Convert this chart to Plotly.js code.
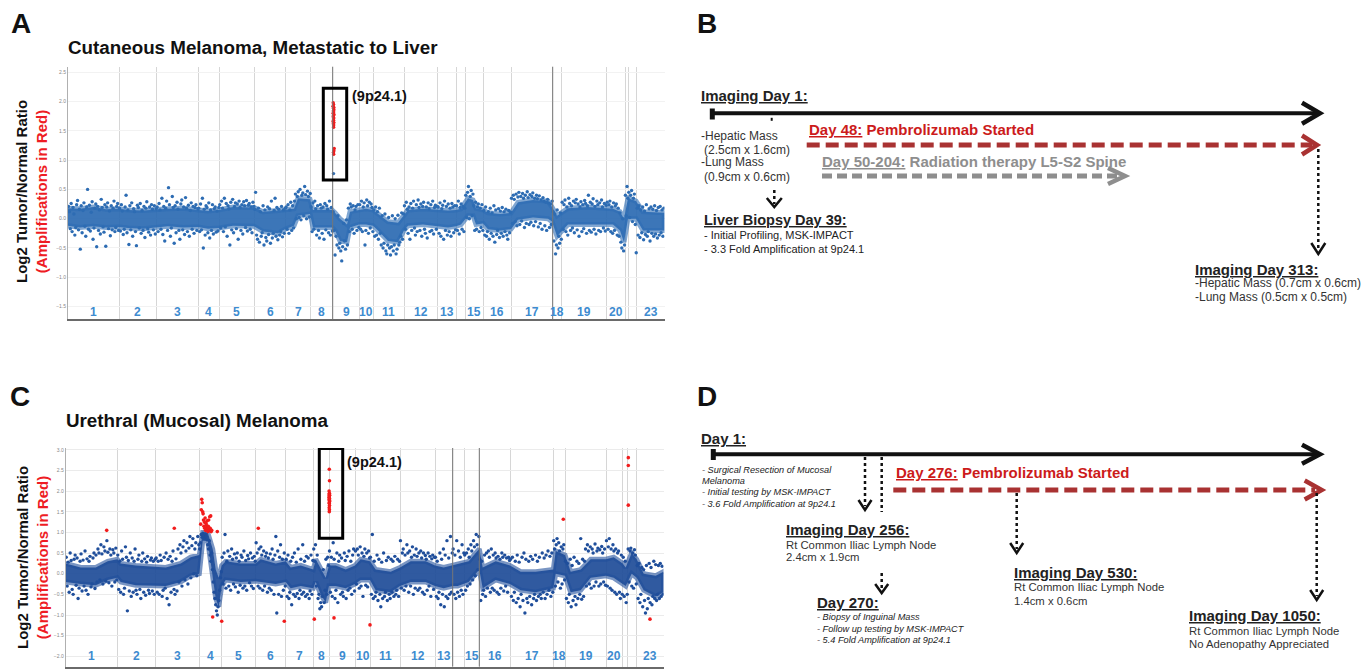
<!DOCTYPE html>
<html>
<head>
<meta charset="utf-8">
<script src="https://cdn.plot.ly/plotly-3.0.1.min.js"></script>
<style>html,body{margin:0;padding:0;background:#fff;}#chart{width:1365px;height:669px;}</style>
</head>
<body>
<div id="chart"></div>
<script>
// ---------------- DATA ----------------
const chromTickText = ['1','2','3','4','5','6','7','8','9','10','11','12','13','','15','16','17','18','19','20','','','23'];
// cumulative probe-index end of each chromosome (panel A / panel C)
const chromEndA = [51,88.7,130.3,151.3,186.3,217.7,242.7,264.7,291.3,305.3,336,369.7,388,397.3,415.3,443,484.7,493.7,538.7,557,560.3,568.7,596.3];
const chromEndC = [51.6,90,133.6,156,190,220,247.6,263.3,289.3,304.3,334.3,369.3,387,398.6,413.6,444.3,487.6,499.3,540.3,557,562,571,597.8];
const yTicksA = [-1.5,-1.0,-0.5,0.0,0.5,1.0,1.5,2.0,2.5];
const yTicksC = [-2.0,-1.5,-1.0,-0.5,0.0,0.5,1.0,1.5,2.0,2.5,3.0];

// dense core of the log2 ratio cloud (lower / upper envelope)
const bandXA  = [0,12,25,38,51, 60,75,88, 100,115,130, 140,151, 165,186, 195,210,217, 226,230,242, 245,264, 267,272,279,282,291, 298,305, 310,320,330,336, 340,355,369, 380,388, 393, 400,405,408,415, 420,432,443, 450,465,480,484, 489, 500,520,538, 545,552,556, 560,568, 575,590,596.3];
const bandLoA = [-0.12,-0.15,-0.13,-0.15,-0.14, -0.16,-0.17,-0.14, -0.13,-0.15,-0.14, -0.17,-0.16, -0.12,-0.13, -0.22,-0.25,-0.18, -0.12,0.05,0.08, -0.15,-0.15, -0.2,-0.38,-0.4,-0.15,-0.1, -0.1,-0.12, -0.2,-0.38,-0.4,-0.2, -0.12,-0.1,-0.12, -0.15,-0.13, -0.1, 0.05,0.05,-0.1,-0.08, -0.18,-0.2,-0.18, -0.02,0.02,0.0,-0.05, -0.3, -0.1,-0.08,-0.1, -0.1,-0.2,-0.4, 0.0,0.0, -0.2,-0.2,-0.2];
const bandHiA = [0.18,0.17,0.2,0.16,0.17, 0.15,0.14,0.16, 0.17,0.18,0.16, 0.13,0.15, 0.2,0.19, 0.12,0.14,0.15, 0.17,0.35,0.33, 0.15,0.15, 0.1,0.0,-0.1,0.12,0.15, 0.17,0.15, 0.08,-0.05,-0.07,0.05, 0.15,0.17,0.15, 0.14,0.15, 0.17, 0.35,0.32,0.18,0.15, 0.1,0.08,0.1, 0.28,0.32,0.3,0.2, 0.05, 0.18,0.2,0.18, 0.17,0.12,0.0, 0.35,0.3, 0.12,0.12,0.1];

const bandXC  = [0,15,30,42,51.6, 55,70,90, 100,115,125,133.6, 135,137,142,144,147,150,153,156, 160,175,190, 195,210,220, 225,235,247.6, 250,255,260,263.3, 270,280,289.3, 295,304.3, 310,325,334.3, 345,360,369.3, 378,387, 392, 403,410,413.6, 417,430,444.3, 455,470,487.6, 490,499.3, 505,515,525,540.3, 548,557, 560, 566,571, 578,590,597.8];
const bandLoC = [-0.2,-0.25,-0.28,-0.15,-0.1, -0.2,-0.28,-0.3, -0.3,-0.2,-0.05,0.0, 0.3,0.8,0.8,0.4,0.0,-0.6,-0.8,-0.3, -0.15,-0.2,-0.18, -0.2,-0.25,-0.2, -0.35,-0.3,-0.35, -0.2,-0.5,-0.7,-0.3, -0.3,-0.35,-0.25, -0.15,-0.15, -0.4,-0.45,-0.3, -0.2,-0.2,-0.3, -0.35,-0.3, -0.3, -0.2,0.0,0.1, -0.35,-0.15,-0.25, -0.4,-0.45,-0.35, 0.0,-0.05, -0.45,-0.4,-0.1,-0.05, -0.1,-0.25, -0.3, 0.0,-0.1, -0.4,-0.55,-0.45];
const bandHiC = [0.25,0.15,0.15,0.3,0.35, 0.25,0.2,0.15, 0.15,0.25,0.4,0.45, 0.75,1.0,1.0,0.85,0.6,0.1,-0.1,0.2, 0.3,0.25,0.25, 0.35,0.25,0.3, 0.15,0.2,0.1, 0.35,0.1,-0.1,0.2, 0.2,0.1,0.2, 0.35,0.3, 0.1,0.05,0.15, 0.3,0.3,0.2, 0.15,0.2, 0.25, 0.3,0.5,0.6, 0.15,0.3,0.2, 0.05,0.05,0.1, 0.55,0.45, 0.05,0.1,0.35,0.35, 0.4,0.25, 0.15, 0.5,0.35, 0.0,-0.05,0.05];

// scattered probes per chromosome (in order along the chromosome)
const ptsA = [
 [0.21,0.12,-0.17,0.26,-0.22,0.19,0.08,-0.28,-0.15,0.24,0.31,-0.19,0.16,-0.52,0.22,-0.24,0.14,0.27,-0.13,-0.3,0.2,0.5,-0.18,0.23,-0.21,0.11,0.29,-0.35,-0.16,0.18,0.25,-0.48,0.21,-0.2,0.15,-0.26,0.33,0.19,-0.14,-0.23,0.24,-0.47,0.2,0.27,-0.17,0.13,-0.29,0.22,-0.19,0.18,0.3,-0.22,-0.15,0.21,0.26,-0.2],
 [0.18,-0.21,0.24,0.13,-0.27,-0.18,0.2,0.4,-0.24,0.15,-0.44,0.22,-0.19,0.27,-0.3,0.17,0.12,-0.22,-0.46,0.23,0.19,-0.16,0.26,-0.25,0.14,-0.2,0.21,-0.32,0.18,0.29,-0.17,-0.23,0.2,-0.28,0.24,0.16,-0.19,0.22,-0.26,0.17],
 [0.2,-0.22,0.26,0.15,-0.18,0.35,-0.27,0.21,-0.38,0.18,0.3,-0.2,0.53,0.24,-0.3,-0.16,0.38,0.19,-0.42,0.22,-0.24,0.28,0.16,-0.2,-0.35,0.25,0.32,-0.19,0.2,-0.27,0.36,0.18,-0.22,0.23,-0.3,0.14,0.27,-0.18,0.21,-0.25,0.19,0.24,-0.2,0.17],
 [0.18,-0.22,0.25,-0.19,0.35,-0.5,0.16,-0.28,0.22,0.19,-0.24,0.27,-0.33,0.15,-0.2,0.24,-0.26,0.17,0.2,-0.23,0.13,-0.21,0.19],
 [0.24,-0.16,0.3,0.18,-0.22,0.35,-0.14,0.26,-0.3,0.22,0.17,-0.45,0.28,-0.19,0.33,-0.24,0.21,0.27,-0.17,0.25,-0.35,0.3,0.19,-0.2,0.24,-0.26,0.29,0.22,-0.15,0.31,-0.21,0.23,0.26,-0.18,0.2,-0.24,0.28,0.21],
 [0.16,0.45,-0.28,-0.35,0.18,-0.4,0.12,-0.3,-0.24,0.22,-0.45,0.15,-0.32,-0.38,0.2,-0.27,0.17,-0.42,0.3,-0.33,-0.25,0.14,0.35,-0.3,0.19,-0.36,0.16,-0.28,-0.22,0.21,-0.31,0.15,-0.25,0.18],
 [0.2,-0.18,0.24,-0.25,0.15,0.28,-0.2,0.22,-0.16,0.3,0.42,0.0,0.38,0.46,0.02,0.5,-0.02,0.4,0.44,0.05,0.55,0.41,0.0,0.47,0.38,0.03,0.43],
 [0.2,-0.22,0.27,-0.18,0.3,0.17,-0.28,0.22,-0.2,-0.33,0.24,0.18,-0.25,0.2,-0.35,0.26,-0.19,0.22,0.16,-0.24,0.3,-0.28,0.19,-0.21],
 [0.12,-0.2,-0.62,-0.3,-0.45,0.05,-0.5,-0.42,-0.55,-0.72,-0.48,-0.08,-0.38,-0.52,-0.02,-0.45,0.18,-0.22,0.25,0.2,-0.18,0.22,-0.25,0.15,0.21,-0.2,0.24,-0.15],
 [0.24,-0.18,0.3,-0.22,0.2,0.27,-0.45,-0.2,0.32,0.22,-0.25,0.28,-0.16,0.25,0.19,-0.22],
 [0.15,-0.3,0.2,-0.28,0.12,-0.35,0.18,-0.25,-0.45,0.05,-0.5,-0.42,0.08,-0.55,-0.6,-0.45,0.02,-0.5,-0.62,-0.48,0.05,-0.55,-0.45,0.0,-0.6,-0.52,0.06,-0.45,-0.4,-0.3,0.1,-0.35,0.08],
 [0.22,-0.18,0.28,0.16,-0.25,0.2,-0.35,0.26,-0.2,0.18,0.3,-0.16,-0.28,0.24,-0.22,0.32,0.19,-0.2,0.25,-0.3,0.21,0.28,-0.18,-0.25,0.2,-0.33,0.27,0.17,-0.22,0.24,-0.2,0.3,-0.26,0.19,0.23,-0.18,0.21],
 [0.2,-0.25,0.27,-0.3,0.17,0.23,-0.35,0.3,-0.2,0.21,-0.28,0.25,-0.22,0.18,-0.3,0.26,0.2,-0.24,0.22,-0.19],
 [0.22,-0.2,0.3,-0.26,0.19,0.25,-0.18,0.21,-0.22,0.18],
 [0.4,0.02,0.45,0.55,0.0,0.38,0.48,0.05,0.42,0.22,-0.2,0.28,-0.18,0.2,0.25,-0.22,0.18,-0.15,0.24,-0.2],
 [0.14,-0.28,0.2,-0.3,-0.22,0.12,-0.35,0.18,-0.25,0.1,-0.3,0.22,-0.4,0.15,-0.27,-0.2,0.17,-0.32,0.13,-0.25,0.19,-0.3,0.12,-0.22,0.16,-0.28,-0.35,0.14,-0.24,0.11],
 [0.35,-0.08,0.4,0.33,-0.05,0.42,-0.12,0.37,0.45,-0.1,0.38,-0.04,0.43,0.35,-0.15,0.4,-0.08,0.46,0.36,-0.1,0.41,-0.06,0.38,0.44,-0.12,0.35,-0.05,0.4,0.34,-0.14,0.39,-0.08,0.32,-0.18,0.36,0.3,-0.12,0.28,-0.2,0.33,0.27,-0.15,0.25,-0.1,0.3],
 [0.12,-0.38,0.08,-0.6,-0.45,0.15,-0.5,-0.3,-0.42,0.1,-0.35],
 [0.28,-0.18,0.24,0.32,-0.22,0.2,-0.28,0.35,0.26,-0.2,0.22,-0.16,0.3,-0.24,0.27,0.33,-0.19,0.25,-0.3,0.2,0.29,-0.22,0.24,-0.17,0.31,0.26,-0.25,0.22,0.4,-0.2,0.28,-0.23,0.25,0.34,-0.18,0.21,-0.26,0.3,0.24,-0.2,0.27,-0.22,0.32,0.2,-0.16,0.26,-0.21,0.23],
 [0.28,-0.18,0.24,0.3,-0.22,0.2,-0.25,0.27,-0.2,0.22,0.25,-0.28,0.18,-0.3,0.1,-0.4,-0.5,0.0,-0.55,-0.45],
 [0.4,0.05,0.55,0.35],
 [0.45,0.02,0.4,0.48,-0.05,0.35,0.42,-0.1,-0.58],
 [0.18,-0.28,0.22,-0.32,0.15,-0.24,0.2,-0.36,0.13,-0.27,0.24,-0.3,-0.22,0.17,-0.38,0.2,-0.25,0.16,-0.3,0.22,-0.26,0.14,-0.33,0.19,-0.28,0.21,-0.24,0.15,-0.3,0.18]
];
const ptsC = [
 [0.4,-0.3,0.28,-0.45,0.5,0.32,-0.38,-0.5,0.35,0.45,-0.28,0.38,-0.6,-0.35,0.3,0.48,-0.42,0.33,-0.3,0.55,-0.4,0.36,-0.5,0.3,0.42,-0.32,-0.25,0.38,0.5,-0.36,0.45,-0.2,0.6,0.5,-0.15,0.7,0.48,-0.25,0.65,0.55,-0.18,0.8,0.52,-0.22,0.6,0.45,-0.3,0.58,0.5,-0.2,0.62,-0.15],
 [0.45,-0.38,0.3,-0.45,0.55,0.35,-0.5,-0.35,0.65,0.4,-0.9,0.32,-0.42,0.5,-0.55,0.38,-0.45,0.3,0.6,-0.4,-0.5,0.35,0.45,-0.38,-0.6,0.3,0.5,-0.45,0.36,-0.52,0.28,0.42,-0.4,-0.48,0.33,0.38,-0.42,0.3,-0.5,0.35],
 [0.38,-0.45,0.3,-0.5,0.45,0.32,-0.55,-0.4,0.4,-0.35,0.5,-0.6,0.35,-0.75,0.42,-0.45,0.3,0.55,-0.38,-0.5,0.36,-0.42,0.6,-0.2,0.7,0.5,-0.3,0.65,0.8,-0.15,0.55,0.75,-0.25,0.62,0.9,-0.1,0.68,0.85,0.0,0.6,0.75,-0.05,0.9,0.7],
 [0.6,0.75,0.95,0.88,0.98,0.92,0.85,0.96,0.9,0.82,0.7,0.6,0.8,0.45,0.3,0.5,0.1,-0.2,-0.45,-0.6,-0.75,-0.9,-1.0,-0.8,-0.65,-0.4,-0.1,0.05],
 [0.4,-0.25,0.5,0.95,-0.35,0.3,0.55,-0.3,0.42,-0.4,0.6,0.35,-0.25,0.48,-0.32,0.38,0.5,-0.45,0.3,-0.28,0.45,0.4,-0.35,0.55,-0.3,0.32,-0.4,0.44,0.36,-0.22,0.5,-0.3,0.38,-0.36,0.42,0.3],
 [0.75,0.5,-0.3,0.6,-0.35,0.65,0.45,-0.4,0.55,-0.3,0.42,0.5,-0.45,0.38,-0.35,0.48,-0.4,0.6,0.35,-0.5,0.45,0.9,-0.95,0.55,-0.5,0.4,0.7,-0.55,0.35,-0.4,0.5,-0.3],
 [0.35,-0.55,0.45,-0.6,-0.45,0.3,-0.75,0.4,-0.5,0.5,-0.55,0.28,-0.48,0.6,-0.6,-0.4,0.35,-0.5,0.7,-0.45,0.3,-0.55,0.42,-0.5,0.38,-0.6,-0.42,0.45,-0.5,0.32],
 [0.6,0.3,0.7,-0.3,0.45,-0.6,-0.5,-0.85,-0.7,-0.8,-0.55,0.1,-0.7,-0.4,0.35,-0.5,0.4,0.2],
 [0.55,-0.45,0.4,-0.55,0.75,0.35,-0.6,-0.4,0.5,-0.7,0.3,0.45,-0.5,0.38,-0.45,-0.55,0.5,0.32,-0.6,0.42,-0.4,0.55,-0.35,0.3,-0.5,0.45,0.6,-0.42],
 [0.55,-0.25,0.6,0.45,-0.35,0.65,-0.3,0.5,-0.55,0.42,0.6,-0.28,0.5,-0.32,0.55,0.38],
 [0.4,-0.5,0.95,-0.6,0.3,-0.55,-0.45,0.45,-0.65,0.35,-0.5,-0.8,0.28,-0.6,0.5,-0.55,-0.45,0.32,-0.65,0.4,-0.5,-0.6,0.35,-0.45,0.3,-0.55,0.42,-0.5,-0.4,0.35,-0.55,0.3],
 [0.8,-0.35,0.5,0.6,-0.4,0.45,-0.3,0.7,0.5,-0.45,0.55,-0.3,0.4,0.65,-0.5,0.45,-0.35,0.6,0.42,-0.4,0.5,-0.35,0.55,0.38,-0.45,0.5,-0.5,0.44,0.35,-0.4,0.5,-0.3,0.42,-0.55,0.36,0.45,-0.38,0.4],
 [0.4,-0.55,0.3,-0.6,-0.45,0.5,-0.75,0.35,-0.5,0.6,-0.8,0.45,-0.55,0.8,-0.6,0.38,-0.5,0.9,-0.45,0.5],
 [0.6,-0.5,0.45,-0.6,0.8,-0.45,0.55,-0.55,0.4,-0.4,0.7,-0.5,0.5],
 [0.45,-0.4,0.5,-0.3,0.6,0.4,-0.25,0.7,0.55,-0.15,0.8,0.65,-0.05,0.95,0.7,0.1,0.9],
 [0.35,-0.65,0.3,-0.5,-0.4,0.45,-0.55,0.5,-0.35,0.55,0.4,-0.45,0.6,-0.35,0.45,-0.4,0.5,0.38,-0.45,0.42,-0.5,0.35,-0.35,0.5,0.4,-0.42,0.45,-0.3,0.38,-0.45,0.4,0.32],
 [0.35,-0.55,0.4,-0.65,-0.45,0.3,-0.7,0.45,-0.6,0.28,-0.8,-0.5,0.4,-0.65,0.5,-0.95,0.35,-0.6,-0.7,0.3,-0.55,0.42,-0.75,0.35,-0.6,-0.5,0.45,-0.65,0.3,-0.55,0.4,-0.5,-0.6,0.5,-0.45,0.38,-0.6,0.45,-0.5,0.55,-0.4,0.42,-0.55,0.5,-0.45],
 [0.8,0.6,-0.3,0.7,0.85,-0.2,0.75,0.55,-0.35,0.65,-0.25,0.6,0.7,-0.15],
 [0.3,-0.6,0.25,-0.7,-0.5,0.35,-0.8,0.2,-0.65,0.4,-0.55,-0.75,0.3,-0.6,0.25,-0.5,0.85,-0.62,0.35,-0.55,0.3,0.6,-0.3,0.7,0.55,-0.25,0.65,-0.35,0.6,0.5,-0.3,0.72,-0.2,0.55,0.62,-0.3,0.58,-0.25,0.66,0.5,-0.2,0.6,-0.28],
 [0.8,-0.3,0.65,0.85,-0.35,0.6,-0.4,0.7,0.55,-0.45,0.6,-0.5,0.5,0.55,-0.45,-0.6,0.45,-0.5],
 [0.4,-0.55,0.3,-0.7,-0.5],
 [0.6,-0.2,0.55,0.62,-0.3,0.5,-0.35,0.58,0.45,-0.25],
 [0.2,-0.6,0.25,-0.7,-0.5,0.15,-0.8,0.1,-0.65,-0.95,0.2,-0.85,-0.6,0.25,-0.7,0.15,-0.75,-0.55,0.3,-0.6,0.22,-0.65,-0.5,0.2,-0.6,0.25,-0.55,0.18,-0.5]
];

// flagged probes (red)
const redXA = [265.2,265.6,265.0,265.8,265.4,265.9,265.3,265.7,265.1,266.0,265.5,265.2,265.8,265.4,265.6,265.1,265.9,265.3,265.7,265.5,265.6,266.2,265.9,265.4,265.7];
const redYA = [1.98,1.95,1.92,1.9,1.88,1.86,1.84,1.82,1.8,1.78,1.76,1.74,1.72,1.7,1.68,1.66,1.64,1.62,1.6,1.58,1.56,1.2,1.16,1.13,1.1];
const focalBlueXA = [265.5];
const focalBlueYA = [0.77];
const redXC = [41,108.6, 135,135.6,136,136.5,137,137.4,137.8,138.2,138.6,139,139.4,139.8,140.2,140.6,141,141.4,141.8,142.2,142.6,143,143.5,144,144.5,145,145.5,146, 151.6,147,156,192.6,218.6,248.6,
 263.6,263.8,263.4,263.7,263.5,263.9,263.6,263.4,263.8,263.5,263.7,263.9,263.5,263.6,263.8,263.5,263.7,263.6, 268.3,304.3,497.6,562.6,562.6,562.6,584.3];
const redYC = [1.05,1.1, 1.2,1.55,1.8,1.72,1.5,1.45,1.3,1.15,1.25,1.1,1.35,1.05,1.22,1.18,1.12,1.28,1.08,1.02,1.15,1.3,1.05,1.38,1.1,1.4,1.02,1.05, 1.02,-1.05,-1.15,1.1,-1.15,-1.1,
 2.53,2.25,2.0,1.95,1.92,1.9,1.88,1.85,1.82,1.8,1.78,1.75,1.72,1.7,1.65,1.6,1.55,1.5, -1.07,-1.24,1.32,2.81,2.62,1.66,-1.1];

// timeline texts
const bHeadings = ['Imaging Day 1:','Liver Biopsy Day 39:','Imaging Day 313:'];
const bNotesDay1 = ['-Hepatic Mass','(2.5cm x 1.6cm)','-Lung Mass','(0.9cm x 0.6cm)'];
const bNotesDay39 = ['- Initial Profiling, MSK-IMPACT','- 3.3 Fold Amplification at 9p24.1'];
const bNotesDay313 = ['-Hepatic Mass (0.7cm x 0.6cm)','-Lung Mass (0.5cm x 0.5cm)'];
const bTherapy = [['Day 48:','Pembrolizumab Started'],['Day 50-204:','Radiation therapy L5-S2 Spine']];
const dHeadings = ['Day 1:','Imaging Day 256:','Day 270:','Imaging Day 530:','Imaging Day 1050:'];
const dNotesDay1 = ['- Surgical Resection of Mucosal','Melanoma','- Initial testing by MSK-IMPACT','- 3.6 Fold Amplification at 9p24.1'];
const dNotesDay256 = ['Rt Common Iliac Lymph Node','2.4cm x 1.9cm'];
const dNotesDay270 = ['- Biopsy of Inguinal Mass','- Follow up testing by MSK-IMPACT','- 5.4 Fold Amplification at 9p24.1'];
const dNotesDay530 = ['Rt Common Iliac Lymph Node','1.4cm x 0.6cm'];
const dNotesDay1050 = ['Rt Common Iliac Lymph Node','No Adenopathy Appreciated'];
const dTherapy = ['Day 276:','Pembrolizumab Started'];

// ---------------- BUILD ----------------
const W = 1365, H = 669;
const FONT = 'Liberation Sans, Arial, Helvetica, sans-serif';
const px = x => x / W, py = y => 1 - y / H;
const BLUE_A = '#2d6cb3', BLUE_C = '#1f4e9b', RED_PT = '#f21c1c';

function buildPoints(ends, groups) {
  const xs = [], ys = [];
  groups.forEach((vals, k) => {
    const s = k === 0 ? 0 : ends[k - 1], e = ends[k], n = vals.length;
    vals.forEach((v, i) => { xs.push(s + (i + 0.5) * (e - s) / n); ys.push(v); });
  });
  return {xs, ys};
}
// core band: filled envelope with a soft semi-transparent outline (density fall-off)
function bandTrace(xs, lo, hi, color, halo, xa, ya) {
  return {type:'scatter', mode:'lines', x: xs.concat(xs.slice().reverse()),
    y: hi.concat(lo.slice().reverse()), fill:'toself', fillcolor: color,
    line:{width:5, color: halo, shape:'linear'}, xaxis: xa, yaxis: ya, hoverinfo:'skip'};
}
function ptTrace(xs, ys, color, xa, ya, size) {
  return {type:'scatter', mode:'markers', x: xs, y: ys, xaxis: xa, yaxis: ya,
    marker:{color: color, size: size || 3.4, line:{width:0}}, hoverinfo:'skip'};
}
const pA = buildPoints(chromEndA, ptsA);
const pC = buildPoints(chromEndC, ptsC);

const data = [
  bandTrace(bandXA, bandLoA, bandHiA, 'rgba(43,106,178,0.92)', 'rgba(45,108,180,0.6)', 'x', 'y'),
  ptTrace(pA.xs, pA.ys, BLUE_A, 'x', 'y'),
  ptTrace(focalBlueXA, focalBlueYA, BLUE_A, 'x', 'y'),
  ptTrace(redXA, redYA, RED_PT, 'x', 'y', 3.4),
  bandTrace(bandXC, bandLoC, bandHiC, 'rgba(30,76,152,0.92)', 'rgba(32,78,155,0.6)', 'x2', 'y2'),
  ptTrace(pC.xs, pC.ys, BLUE_C, 'x2', 'y2'),
  ptTrace(redXC, redYC, RED_PT, 'x2', 'y2', 3.6)
];

const annotations = [];
const shapes = [];
function txt(x, y, t, size, color, extra) {
  annotations.push(Object.assign({xref:'paper', yref:'paper', x: px(x), y: py(y), xanchor:'left', yanchor:'middle',
    text: t, showarrow:false, font:{family: FONT, size: size, color: color}}, extra || {}));
}
function lineP(x0, y0, x1, y1, color, width, dash) {
  shapes.push({type:'line', xref:'paper', yref:'paper', x0: px(x0), y0: py(y0), x1: px(x1), y1: py(y1),
    line:{color: color, width: width, dash: dash || 'solid'}});
}
function pathP(pts, color, width) {
  const d = pts.map((p, i) => (i ? 'L' : 'M') + px(p[0]).toFixed(5) + ',' + py(p[1]).toFixed(5)).join(' ');
  shapes.push({type:'path', xref:'paper', yref:'paper', path: d, line:{color: color, width: width}, fillcolor:'rgba(0,0,0,0)'});
}
const chevRight = (xt, y, w, h) => [[xt - w, y - h / 2], [xt, y], [xt - w, y + h / 2]];
const chevDown = (x, yt, w, h) => [[x - w / 2, yt - h], [x, yt], [x + w / 2, yt - h]];

// panel letters & titles
txt(9, 24, '<b>A</b>', 28, '#111');
txt(695, 24, '<b>B</b>', 28, '#111');
txt(8, 396, '<b>C</b>', 28, '#111');
txt(695, 396, '<b>D</b>', 28, '#111');
txt(66, 47, '<b>Cutaneous Melanoma, Metastatic to Liver</b>', 18.8, '#111');
txt(64, 420, '<b>Urethral (Mucosal) Melanoma</b>', 18.8, '#111');
const yTitle = '<b>Log2 Tumor/Normal Ratio</b><br><b><span style="color:#ee1c24">(Amplifications in Red)</span></b>';
txt(32, 192, yTitle, 15, '#111', {xanchor:'center', textangle:-90});
txt(32, 558, yTitle, 15, '#111', {xanchor:'center', textangle:-90});

// chromosome labels
function chromLabels(ends, xref, yref, yval) {
  ends.forEach((e, k) => {
    if (!chromTickText[k]) return;
    const s = k === 0 ? 0 : ends[k - 1];
    annotations.push({xref: xref, yref: yref, x: (s + e) / 2, y: yval, text: '<b>' + chromTickText[k] + '</b>',
      showarrow:false, font:{family: FONT, size: 12, color:'#3d8bd0'}});
  });
}
chromLabels(chromEndA, 'x', 'y', -1.6);
chromLabels(chromEndC, 'x2', 'y2', -2.0);

// darker chromosome separators
[[264.7,'x','y domain'],[484.7,'x','y domain'],[387,'x2','y2 domain'],[413.6,'x2','y2 domain']].forEach(d => {
  shapes.push({type:'line', xref: d[1], yref: d[2], x0: d[0], x1: d[0], y0: 0, y1: 1, line:{color:'#777', width:1}});
});
// 9p24.1 boxes + labels
shapes.push({type:'rect', xref:'x', yref:'y', x0: 255.3, x1: 278.7, y0: 0.66, y1: 2.225, line:{color:'#000', width:3}});
shapes.push({type:'rect', xref:'x2', yref:'y2', x0: 253.6, x1: 277, y0: 0.857, y1: 3.03, line:{color:'#000', width:3}});
annotations.push({xref:'x', yref:'y', x: 282, y: 2.1, xanchor:'left', text:'<b>(9p24.1)</b>', showarrow:false, font:{family: FONT, size: 14.5, color:'#111'}});
annotations.push({xref:'x2', yref:'y2', x: 279, y: 2.7, xanchor:'left', text:'<b>(9p24.1)</b>', showarrow:false, font:{family: FONT, size: 14.5, color:'#111'}});

// ---------- Panel B timeline ----------
const BLACK = '#111', DRED = '#a93232', GRAY = '#8e8e8e', RTXT = '#cc1b1b';
lineP(712.3, 113.3, 1316, 113.3, BLACK, 4);
lineP(712.3, 108.5, 712.3, 119.5, BLACK, 5);
pathP(chevRight(1320, 113.3, 18, 21), BLACK, 4.5);
lineP(771.7, 117.8, 771.7, 120.8, BLACK, 2);
lineP(806.7, 145, 1312, 145, DRED, 5, '13px,6px');
pathP(chevRight(1317, 145, 15, 19), DRED, 4.5);
lineP(822, 176, 1119, 176, GRAY, 5, '10px,5px');
pathP(chevRight(1125, 176, 17, 16), GRAY, 4.5);
lineP(774.3, 190, 774.3, 204, BLACK, 2.5, 'dot');
pathP(chevDown(774.3, 207, 15, 9), BLACK, 2.5);
lineP(1318.3, 149, 1318.3, 250, BLACK, 2.5, 'dot');
pathP(chevDown(1318.3, 254, 14, 11), BLACK, 2.5);

txt(699, 95.7, '<b><u>' + bHeadings[0] + '</u></b>', 15, '#222');
txt(702, 220, '<b><u>' + bHeadings[1] + '</u></b>', 14.5, '#222');
txt(1193, 269.3, '<b><u>' + bHeadings[2] + '</u></b>', 15, '#222');
[135.7, 150, 162.3, 176.7].forEach((y, i) => txt(i % 2 ? 702 : 699, y, bNotesDay1[i], 12, '#333'));
[235, 249].forEach((y, i) => txt(702, y, bNotesDay39[i], 11, '#222'));
[283.3, 297.3].forEach((y, i) => txt(1193, y, bNotesDay313[i], 12, '#333'));
txt(806.5, 129, '<b><u>' + bTherapy[0][0] + '</u> ' + bTherapy[0][1] + '</b>', 15, RTXT);
txt(820, 161.7, '<b><u>' + bTherapy[1][0] + '</u> ' + bTherapy[1][1] + '</b>', 15, GRAY);

// ---------- Panel D timeline ----------
lineP(713.3, 454.3, 1317, 454.3, BLACK, 4);
lineP(713.3, 449, 713.3, 460, BLACK, 5);
pathP(chevRight(1320, 454.3, 18, 19), BLACK, 4.5);
lineP(865, 457, 865, 506, BLACK, 2.5, 'dot');
pathP(chevDown(865, 510, 13, 10), BLACK, 2.5);
lineP(881.7, 457, 881.7, 512, BLACK, 2.5, 'dot');
lineP(881.7, 573, 881.7, 590, BLACK, 2.5, 'dot');
pathP(chevDown(881.7, 593, 13, 9), BLACK, 2.5);
lineP(893.3, 490, 1315, 490, DRED, 5, '13px,6px');
pathP(chevRight(1321.7, 490, 17, 19), DRED, 4.5);
lineP(1016.7, 493, 1016.7, 549, BLACK, 2.5, 'dot');
pathP(chevDown(1016.7, 553, 13, 10), BLACK, 2.5);
lineP(1316.7, 493, 1316.7, 596, BLACK, 2.5, 'dot');
pathP(chevDown(1316.7, 600, 13, 10), BLACK, 2.5);

txt(699, 438.3, '<b><u>' + dHeadings[0] + '</u></b>', 15, '#222');
txt(784, 529.3, '<b><u>' + dHeadings[1] + '</u></b>', 15, '#222');
txt(815, 602.7, '<b><u>' + dHeadings[2] + '</u></b>', 15, '#222');
txt(1012, 572.7, '<b><u>' + dHeadings[3] + '</u></b>', 15, '#222');
txt(1186.5, 615, '<b><u>' + dHeadings[4] + '</u></b>', 15, '#222');
[470, 481, 492.3, 504].forEach((y, i) => txt(700, y, '<i>' + dNotesDay1[i] + '</i>', 9.2, '#222'));
[545, 557.3].forEach((y, i) => txt(784, y, dNotesDay256[i], 11.3, '#333'));
[617.3, 629, 640].forEach((y, i) => txt(815, y, '<i>' + dNotesDay270[i] + '</i>', 9.2, '#222'));
[586.7, 601].forEach((y, i) => txt(1012, y, dNotesDay530[i], 11.3, '#333'));
[630.7, 644].forEach((y, i) => txt(1186.5, y, dNotesDay1050[i], 11.3, '#333'));
txt(893.5, 472.7, '<b><u>' + dTherapy[0] + '</u> ' + dTherapy[1] + '</b>', 15, RTXT);

// ---------------- LAYOUT ----------------
function xAxis(ends, domain, range, anchor) {
  return {domain: domain, range: range, anchor: anchor, tickvals: ends.slice(0, -1), showticklabels:false, ticks:'',
    showgrid:true, gridcolor:'#d6d6d6', gridwidth:1, zeroline:false, showline:true, linecolor:'#6a6a6a', linewidth:2, fixedrange:true};
}
function yAxis(ticks, domain, range, anchor, gridc) {
  return {domain: domain, range: range, anchor: anchor, tickvals: ticks, tickformat:'.1f', ticks:'',
    tickfont:{family: FONT, size:5, color:'#888'}, showgrid:true, gridcolor: gridc, zeroline:false,
    showline:true, linecolor:'#b0b0b0', linewidth:1, fixedrange:true};
}
const layout = {
  width: W, height: H, margin:{l:0, r:0, t:0, b:0}, paper_bgcolor:'#fff', plot_bgcolor:'#fff',
  showlegend:false, hovermode:false,
  xaxis: xAxis(chromEndA, [px(68), px(664.5)], [0, 596.5], 'y'),
  yaxis: yAxis(yTicksA, [py(319.3), py(66.7)], [-1.717, 2.594], 'x', '#f2f2f2'),
  xaxis2: xAxis(chromEndC, [px(65.7), px(663.5)], [0, 597.8], 'y2'),
  yaxis2: yAxis(yTicksC, [py(666.5), py(448)], [-2.247, 3.044], 'x2', '#ebebeb'),
  annotations: annotations, shapes: shapes
};
Plotly.newPlot('chart', data, layout, {displayModeBar:false, staticPlot:true});
</script>
</body>
</html>
